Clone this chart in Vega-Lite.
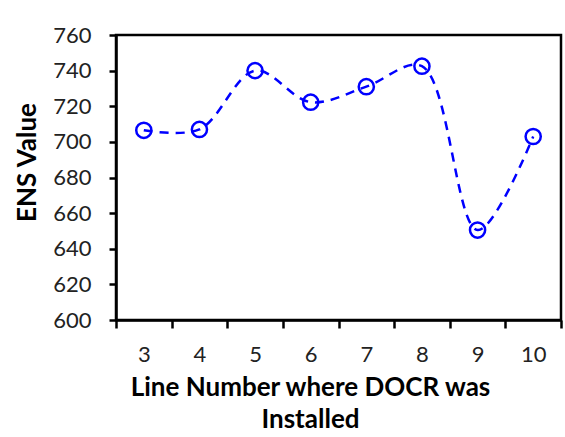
{
  "$schema": "https://vega.github.io/schema/vega-lite/v6.json",
  "autosize": "none",
  "width": 445,
  "height": 285,
  "padding": {"left": 116, "top": 35, "right": 4, "bottom": 117},
  "background": "white",
  "config": {
    "font": "Lato",
    "view": {"stroke": "black", "strokeWidth": 2.5},
    "axis": {
      "labelFont": "Lato",
      "titleFont": "Lato",
      "labelFontSize": 22,
      "titleFontWeight": "bold",
      "labelColor": "#222222",
      "titleColor": "black",
      "domainColor": "black",
      "domainWidth": 2.5,
      "tickColor": "black",
      "tickWidth": 2.5,
      "grid": false
    }
  },
  "data": {
    "values": [
      {"line": 3, "ens": 706.5},
      {"line": 4, "ens": 707},
      {"line": 5, "ens": 740},
      {"line": 6, "ens": 722.3},
      {"line": 7, "ens": 731},
      {"line": 8, "ens": 742.5},
      {"line": 9, "ens": 650.5},
      {"line": 10, "ens": 703}
    ]
  },
  "encoding": {
    "x": {
      "field": "line",
      "type": "quantitative",
      "scale": {"domain": [2.5, 10.5], "nice": false, "zero": false},
      "axis": {
        "values": [2.5, 3.5, 4.5, 5.5, 6.5, 7.5, 8.5, 9.5, 10.5],
        "labelExpr": "datum.value < 10 ? format(datum.value + 0.5, 'd') : ''",
        "labelOffset": 27.8,
        "tickSize": 8,
        "labelPadding": 16,
        "labelFlush": false,
        "labelOverlap": false,
        "title": ["Line Number where DOCR was", "Installed"],
        "titleFontSize": 26,
        "titleBaseline": "alphabetic",
        "titleX": 194,
        "titleY": 75,
        "titleLineHeight": 32
      }
    },
    "y": {
      "field": "ens",
      "type": "quantitative",
      "scale": {"domain": [600, 760], "nice": false, "zero": false},
      "axis": {
        "values": [600, 620, 640, 660, 680, 700, 720, 740, 760],
        "tickSize": 7,
        "labelPadding": 18,
        "title": "ENS Value",
        "titleFontSize": 26,
        "titleBaseline": "alphabetic",
        "titleX": -81,
        "titleY": 127
      }
    }
  },
  "layer": [
    {
      "mark": {
        "type": "line",
        "interpolate": "catmull-rom",
        "color": "#0000FF",
        "strokeWidth": 2.5,
        "strokeDash": [9, 7]
      }
    },
    {
      "mark": {
        "type": "point",
        "shape": "circle",
        "filled": false,
        "color": "#0000FF",
        "strokeWidth": 2.5,
        "size": 230,
        "opacity": 1
      }
    }
  ]
}
